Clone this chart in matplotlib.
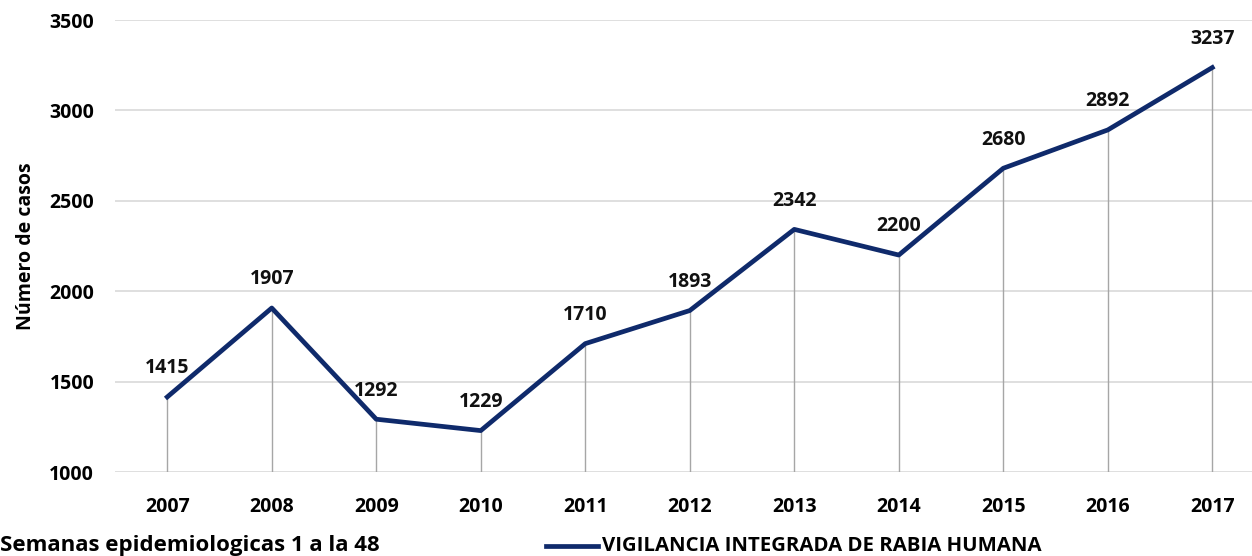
import matplotlib.pyplot as plt
from matplotlib.lines import Line2D

plt.rcParams['font.family'] = ['Open Sans', 'DejaVu Sans']

years = ['2007', '2008', '2009', '2010', '2011', '2012', '2013', '2014', '2015', '2016', '2017']
casos = [1415, 1907, 1292, 1229, 1710, 1893, 2342, 2200, 2680, 2892, 3237]
yticks = [1000, 1500, 2000, 2500, 3000, 3500]

navy = '#0f2a6b'
x = list(range(len(years)))

fig = plt.figure(figsize=(12.52, 5.56), dpi=100)
ax = fig.add_axes([115 / 1252, 1 - 472 / 556, 1 - 115 / 1252, (472 - 20) / 556])

ax.set_ylim(1000, 3500)
ax.set_xlim(-0.5, 10.38)
ax.set_yticks(yticks)
ax.yaxis.grid(True, color='#d9d9d9', linewidth=1.2)
ax.set_axisbelow(True)

# lineas de caida hasta el eje
ax.vlines(x, 1000, casos, color='#a6a6a6', linewidth=1, zorder=1)
ax.plot(x, casos, color=navy, linewidth=3.4, solid_joinstyle='round', zorder=3)

for xi, v in zip(x, casos):
    ax.annotate(str(v), (xi, v), xytext=(0, 17), textcoords='offset points',
                ha='center', va='baseline', fontsize=14, fontweight='bold', color='#111111')

ax.set_xticks(x)
ax.set_xticklabels(years)
for s in ax.spines.values():
    s.set_visible(False)
ax.tick_params(length=0, labelsize=14)
for lbl in ax.get_xticklabels() + ax.get_yticklabels():
    lbl.set_fontweight('bold')
ax.tick_params(axis='x', pad=18)
ax.tick_params(axis='y', pad=15)
ax.set_ylabel('Número de casos', fontsize=14, fontweight='bold')
ax.yaxis.set_label_coords((36 - 115) / 1137, 0.5)

fig.text(0 / 1252, 1 - 546 / 556, 'Semanas epidemiologicas 1 a la 48', fontsize=16,
         fontweight='bold', va='center', ha='left')
fig.add_artist(Line2D([546 / 1252, 598 / 1252], [1 - 546 / 556] * 2, color=navy, linewidth=3.4))
fig.text(602 / 1252, 1 - 546 / 556, 'VIGILANCIA INTEGRADA DE RABIA HUMANA', fontsize=14.7,
         fontweight='bold', va='center', ha='left')

fig.savefig('out.png', dpi=100)
